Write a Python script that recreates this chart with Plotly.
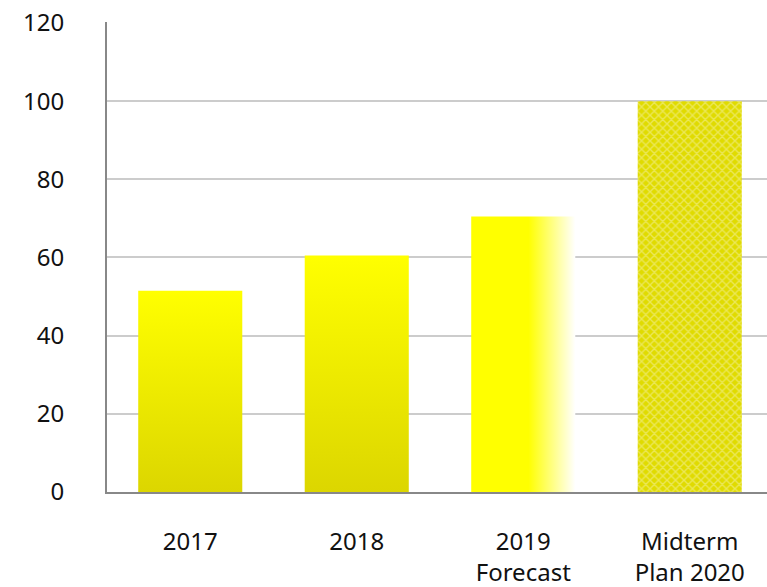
import plotly.graph_objects as go

categories = ["2017", "2018", "2019<br>Forecast", "Midterm<br>Plan 2020"]
values = [51.5, 60.5, 70.5, 100]
y_ticks = [0, 20, 40, 60, 80, 100, 120]

BAR_W = 0.625
fig = go.Figure()

# vertical gradient bars (2017, 2018)
for i in (0, 1):
    x0, x1 = i - BAR_W / 2, i + BAR_W / 2
    fig.add_trace(go.Scatter(
        x=[x0, x1, x1, x0, x0], y=[0, 0, values[i], values[i], 0],
        mode="lines", line=dict(width=0), fill="toself",
        fillgradient=dict(type="vertical",
                          colorscale=[[0, "#dcd600"], [1, "#ffff00"]]),
        hoverinfo="skip", showlegend=False))

# horizontal fade bar (2019 forecast)
i = 2
x0, x1 = i - BAR_W / 2, i + BAR_W / 2
fig.add_trace(go.Scatter(
    x=[x0, x1, x1, x0, x0], y=[0, 0, values[i], values[i], 0],
    mode="lines", line=dict(width=0), fill="toself",
    fillgradient=dict(type="horizontal",
                      colorscale=[[0, "#ffff00"], [0.55, "#ffff00"], [1, "#ffffff"]]),
    hoverinfo="skip", showlegend=False))

# patterned bar (midterm plan)
fig.add_trace(go.Bar(
    x=[3], y=[values[3]], width=BAR_W,
    marker=dict(color="#e2dd00", line=dict(width=0),
                pattern=dict(shape="x", fgcolor="#f6f3b0", bgcolor="#e0db00",
                             size=6, solidity=0.4)),
    showlegend=False))

fig.update_layout(
    width=767, height=587,
    margin=dict(l=107, r=0, t=22, b=95),
    paper_bgcolor="white", plot_bgcolor="white",
    font=dict(family="Noto Sans, Open Sans, sans-serif", size=24, color="#111111"),
    xaxis=dict(range=[-0.5, 3.464], tickvals=list(range(len(categories))),
               ticktext=categories, showgrid=False, zeroline=False,
               showline=True, linecolor="#888888", linewidth=2, automargin=False,
               ticks="", ticklabelstandoff=27, tickfont=dict(size=24)),
    yaxis=dict(range=[0, 120.25], tickvals=y_ticks, showgrid=True,
               gridcolor="#cccccc", gridwidth=2, zeroline=False,
               showline=True, linecolor="#888888", linewidth=2, automargin=False,
               ticks="", ticklabelstandoff=36, tickfont=dict(size=24)),
)

fig.write_html("out.html")
